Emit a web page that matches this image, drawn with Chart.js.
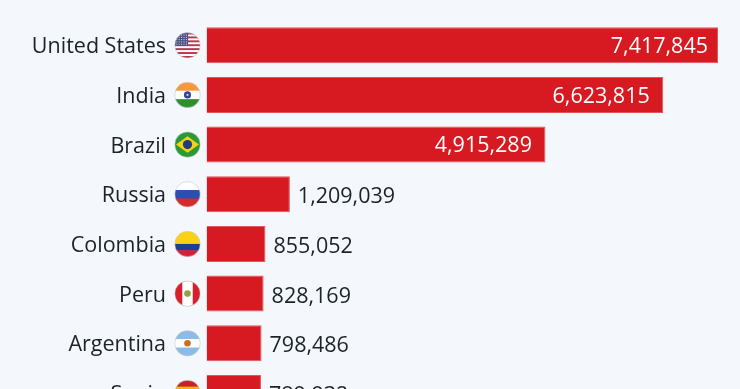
<!DOCTYPE html>
<html>
<head>
<meta charset="utf-8">
<style>
  html, body { margin: 0; padding: 0; background: #f4f7fb; overflow: hidden; }
  #wrap { width: 740px; height: 389px; overflow: hidden; }
  canvas { display: block; }
</style>
<script src="https://cdn.jsdelivr.net/npm/chart.js@4"></script>
</head>
<body>
<div id="wrap"><canvas id="chart" width="740" height="420" style="width:740px;height:420px"></canvas></div>
<script>
const countries = ['United States', 'India', 'Brazil', 'Russia', 'Colombia', 'Peru', 'Argentina', 'Spain'];
const cases = [7417845, 6623815, 4915289, 1209039, 855052, 828169, 798486, 789932];
const flags = ['us', 'in', 'br', 'ru', 'co', 'pe', 'ar', 'es'];

const FONT = '"Open Sans", sans-serif';
const TEXT = '#1c2327';

// clip to the round flag, then paint horizontal stripes top to bottom
function stripes(ctx, x, y, r, list) {
    const total = list.reduce((s, b) => s + b[1], 0);
    let top = y - r;
    list.forEach(b => {
        const h = b[1] / total * r * 2;
        ctx.fillStyle = b[0];
        ctx.fillRect(x - r, top, r * 2, h + 0.5);
        top += h;
    });
}

function dot(ctx, x, y, r, color) {
    ctx.fillStyle = color;
    ctx.beginPath();
    ctx.arc(x, y, r, 0, Math.PI * 2);
    ctx.fill();
}

const flagPainters = {
    us(ctx, x, y, r) {
        const list = [];
        for (let i = 0; i < 13; i++) list.push([i % 2 ? '#ffffff' : '#b5384a', 1]);
        stripes(ctx, x, y, r, list);
        ctx.fillStyle = '#4a4f86';
        ctx.fillRect(x - r, y - r, r * 1.05, r * 1.05);
        ctx.fillStyle = '#dfe2f0';
        for (let row = 0; row < 5; row++) {
            for (let col = 0; col < 5; col++) {
                ctx.fillRect(x - r + 1.5 + col * 2.4, y - r + 2 + row * 2.3, 1, 1);
            }
        }
    },
    in(ctx, x, y, r) {
        stripes(ctx, x, y, r, [['#f9973a', 1], ['#ffffff', 1], ['#2f8f2f', 1]]);
        dot(ctx, x, y, r * 0.28, '#3a3f9e');
        dot(ctx, x, y, r * 0.09, '#c9cdf0');
    },
    br(ctx, x, y, r) {
        stripes(ctx, x, y, r, [['#2c9a34', 1]]);
        ctx.fillStyle = '#f7d117';
        ctx.beginPath();
        ctx.moveTo(x - r * 0.9, y);
        ctx.lineTo(x, y - r * 0.65);
        ctx.lineTo(x + r * 0.9, y);
        ctx.lineTo(x, y + r * 0.65);
        ctx.closePath();
        ctx.fill();
        dot(ctx, x, y, r * 0.36, '#1f3f7a');
    },
    ru(ctx, x, y, r) {
        stripes(ctx, x, y, r, [['#ffffff', 1], ['#2a4fb0', 1], ['#d52b2b', 1]]);
    },
    co(ctx, x, y, r) {
        stripes(ctx, x, y, r, [['#fbd116', 2], ['#1c3f94', 1], ['#d5202f', 1]]);
    },
    pe(ctx, x, y, r) {
        ctx.fillStyle = '#d91f2b';
        ctx.fillRect(x - r, y - r, r * 2, r * 2);
        ctx.fillStyle = '#ffffff';
        ctx.fillRect(x - r / 3 - 1, y - r, r * 2 / 3 + 2, r * 2);
        dot(ctx, x, y, r * 0.26, '#8fa63f');
    },
    ar(ctx, x, y, r) {
        stripes(ctx, x, y, r, [['#8cbbe6', 1], ['#ffffff', 1], ['#8cbbe6', 1]]);
        dot(ctx, x, y, r * 0.26, '#c9701c');
    },
    es(ctx, x, y, r) {
        stripes(ctx, x, y, r, [['#c8202a', 1], ['#f6b60f', 2], ['#c8202a', 1]]);
        dot(ctx, x - r * 0.35, y, r * 0.2, '#b5382a');
    }
};

// round flags sit just left of the bars, in the gap after the tick labels
const flagPlugin = {
    id: 'flagPlugin',
    afterDraw(chart) {
        const ctx = chart.ctx;
        const yScale = chart.scales.y;
        const r = 12.7;
        const x = chart.chartArea.left - 19;
        flags.forEach((code, i) => {
            const y = yScale.getPixelForValue(i);
            ctx.save();
            ctx.beginPath();
            ctx.arc(x, y, r, 0, Math.PI * 2);
            ctx.clip();
            flagPainters[code](ctx, x, y, r);
            ctx.restore();
            ctx.strokeStyle = '#c4c9cf';
            ctx.lineWidth = 0.6;
            ctx.beginPath();
            ctx.arc(x, y, r, 0, Math.PI * 2);
            ctx.stroke();
        });
    }
};

// value text: white inside the long bars, dark after the short ones
const valuePlugin = {
    id: 'valuePlugin',
    afterDatasetsDraw(chart) {
        const ctx = chart.ctx;
        const bars = chart.getDatasetMeta(0).data;
        ctx.save();
        ctx.font = '21.5px ' + FONT;
        ctx.textBaseline = 'middle';
        bars.forEach((bar, i) => {
            const label = cases[i].toLocaleString('en-US');
            if (cases[i] > 3000000) {
                ctx.fillStyle = '#ffffff';
                ctx.textAlign = 'right';
                ctx.fillText(label, bar.x - (i === 0 ? 10 : 13.5), bar.y + 1.5);
            } else {
                ctx.fillStyle = TEXT;
                ctx.textAlign = 'left';
                ctx.fillText(label, bar.x + 8, bar.y + 3);
            }
        });
        ctx.restore();
    }
};

new Chart(document.getElementById('chart'), {
    type: 'bar',
    data: {
        labels: countries,
        datasets: [{
            data: cases,
            backgroundColor: '#d71a21',
            borderColor: '#e2555b',
            borderWidth: 1,
            categoryPercentage: 1,
            barPercentage: 0.725
        }]
    },
    options: {
        indexAxis: 'y',
        responsive: false,
        animation: false,
        layout: { padding: { top: 20.4, bottom: 2.2, left: 0, right: 22 } },
        plugins: { legend: { display: false }, tooltip: { enabled: false } },
        scales: {
            x: {
                display: false,
                min: 0,
                max: 7417845
            },
            y: {
                // tick padding would otherwise also be added above and below the axis
                afterFit(scale) {
                    scale.width = 206.5;
                    scale.paddingTop = 0;
                    scale.paddingBottom = 0;
                },
                grid: { display: false },
                border: { display: false },
                ticks: {
                    color: TEXT,
                    padding: 32.5,
                    labelOffset: 2,
                    autoSkip: false,
                    font: { family: FONT, size: 21.5 }
                }
            }
        }
    },
    plugins: [flagPlugin, valuePlugin]
});
</script>
</body>
</html>
